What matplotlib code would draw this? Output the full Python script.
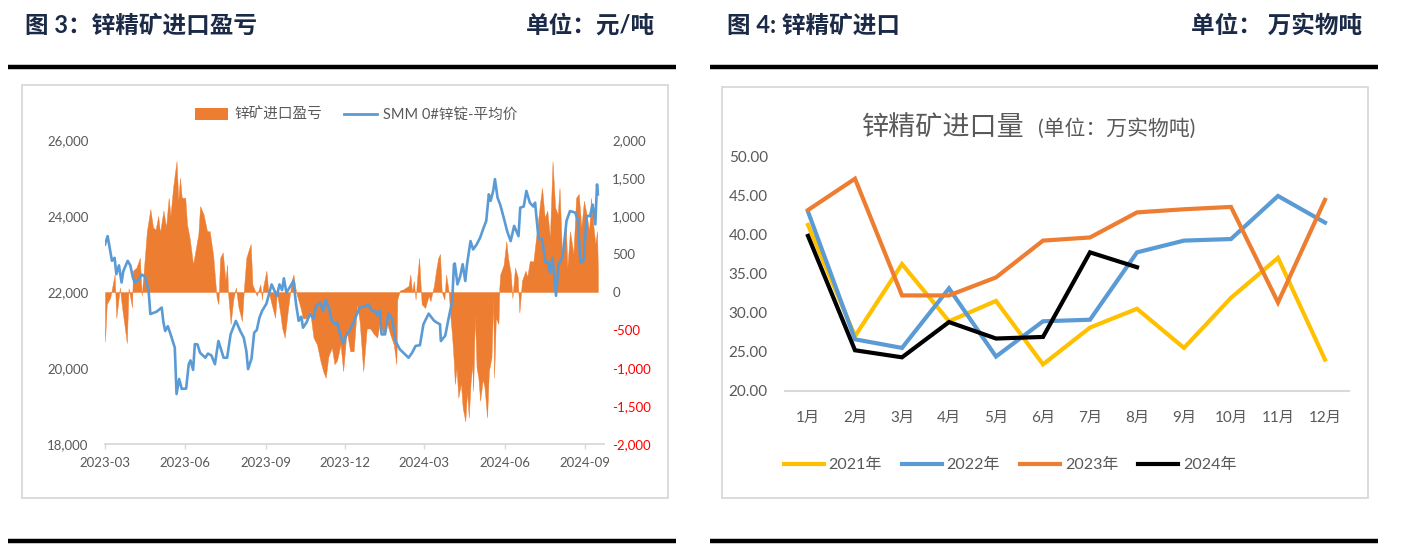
import matplotlib
matplotlib.use('Agg')
import matplotlib.pyplot as plt
import matplotlib.dates as mdates
from matplotlib.lines import Line2D
from matplotlib.patches import Rectangle, Patch
from matplotlib.ticker import FuncFormatter, FixedLocator
import pandas as pd

plt.rcParams['font.family'] = ['Lato', 'Noto Sans CJK SC', 'DejaVu Sans']

# ---------------- data: left chart (daily series) ----------------
price_dates = [
    '2023-03-01', '2023-03-04', '2023-03-09', '2023-03-12', '2023-03-14', '2023-03-17', '2023-03-20',
    '2023-03-22', '2023-03-27', '2023-03-30', '2023-04-02', '2023-04-04', '2023-04-08', '2023-04-12',
    '2023-04-16', '2023-04-20', '2023-04-22', '2023-04-29', '2023-05-05', '2023-05-07', '2023-05-09',
    '2023-05-12', '2023-05-15', '2023-05-20', '2023-05-22', '2023-05-25', '2023-05-28', '2023-06-02',
    '2023-06-05', '2023-06-07', '2023-06-10', '2023-06-12', '2023-06-15', '2023-06-18', '2023-06-24',
    '2023-06-27', '2023-07-01', '2023-07-05', '2023-07-09', '2023-07-15', '2023-07-19', '2023-07-23',
    '2023-07-29', '2023-08-03', '2023-08-07', '2023-08-10', '2023-08-12', '2023-08-16', '2023-08-19',
    '2023-08-22', '2023-08-25', '2023-08-28', '2023-09-02', '2023-09-08', '2023-09-14', '2023-09-17',
    '2023-09-20', '2023-09-22', '2023-09-25', '2023-10-03', '2023-10-06', '2023-10-09', '2023-10-12',
    '2023-10-14', '2023-10-18', '2023-10-22', '2023-10-26', '2023-10-29', '2023-11-03', '2023-11-06',
    '2023-11-09', '2023-11-13', '2023-11-16', '2023-11-20', '2023-11-22', '2023-11-26', '2023-11-29',
    '2023-12-03', '2023-12-07', '2023-12-13', '2023-12-18', '2023-12-24', '2023-12-28', '2024-01-01',
    '2024-01-05', '2024-01-07', '2024-01-10', '2024-01-12', '2024-01-16', '2024-01-20', '2024-01-24',
    '2024-01-28', '2024-02-02', '2024-02-08', '2024-02-12', '2024-02-16', '2024-02-20', '2024-02-25',
    '2024-02-29', '2024-03-06', '2024-03-12', '2024-03-15', '2024-03-19', '2024-03-20', '2024-03-25',
    '2024-03-29', '2024-04-02', '2024-04-04', '2024-04-05', '2024-04-08', '2024-04-11', '2024-04-14',
    '2024-04-17', '2024-04-19', '2024-04-23', '2024-04-26', '2024-04-30', '2024-05-04', '2024-05-08',
    '2024-05-11', '2024-05-14', '2024-05-16', '2024-05-19', '2024-05-21', '2024-05-24', '2024-05-27',
    '2024-05-31', '2024-06-04', '2024-06-08', '2024-06-12', '2024-06-17', '2024-06-19', '2024-06-23',
    '2024-06-26', '2024-06-30', '2024-07-04', '2024-07-06', '2024-07-10', '2024-07-14', '2024-07-18',
    '2024-07-21', '2024-07-23', '2024-07-26', '2024-07-30', '2024-08-02', '2024-08-06', '2024-08-08',
    '2024-08-11', '2024-08-15', '2024-08-21', '2024-08-24', '2024-08-27', '2024-08-31', '2024-09-03',
    '2024-09-07', '2024-09-10', '2024-09-13', '2024-09-15', '2024-09-16',
]
price_values = [
    23250, 23470, 22820, 22900, 22470, 22700, 22250,
    22550, 22820, 22700, 22380, 22250, 22300, 22460,
    22400, 22030, 21420, 21480, 21590, 21200, 20975,
    21100, 20900, 20535, 19315, 19710, 19450, 19460,
    20100, 20200, 19950, 20630, 20620, 20400, 20270,
    20380, 20330, 20100, 20710, 20270, 20270, 20890,
    21240, 20975, 20800, 20450, 19970, 20250, 20930,
    21000, 21320, 21500, 21690, 22200, 21895, 22200,
    22050, 22360, 21980, 22290, 21680, 21240, 21350,
    21060, 21200, 21420, 21300, 21630, 21720, 21500,
    21800, 21550, 21240, 21150, 21200, 20850, 20650,
    20880, 21000, 21320, 21590, 21620, 21680, 21500,
    21500, 21380, 21500, 20885, 20885, 21430, 21300,
    20710, 20490, 20360, 20270, 20400, 20580, 20600,
    21150, 21430, 21250, 21200, 21150, 20710, 20850,
    21320, 21760, 22730, 22750, 22200, 22400, 22730,
    22290, 22730, 23340, 23120, 23250, 23430, 23690,
    23870, 24570, 24400, 24660, 24970, 24480, 24300,
    23960, 23600, 23340, 23740, 23470, 24220, 24250,
    24660, 24350, 24250, 24350, 23390, 23400, 22770,
    22800, 22510, 22900, 21900, 22730, 22900, 23200,
    23870, 24130, 24090, 23900, 22770, 22850, 24000,
    24000, 24300, 23780, 24830, 24570,
]

margin_dates = [
    '2023-03-01', '2023-03-03', '2023-03-07', '2023-03-12', '2023-03-14', '2023-03-18', '2023-03-20',
    '2023-03-26', '2023-03-28', '2023-04-01', '2023-04-02', '2023-04-06', '2023-04-10', '2023-04-12',
    '2023-04-15', '2023-04-18', '2023-04-22', '2023-04-25', '2023-04-28', '2023-05-01', '2023-05-03',
    '2023-05-07', '2023-05-10', '2023-05-13', '2023-05-15', '2023-05-18', '2023-05-20', '2023-05-22',
    '2023-05-24', '2023-05-26', '2023-05-28', '2023-06-01', '2023-06-03', '2023-06-06', '2023-06-10',
    '2023-06-12', '2023-06-16', '2023-06-18', '2023-06-22', '2023-06-26', '2023-06-29', '2023-07-03',
    '2023-07-07', '2023-07-09', '2023-07-11', '2023-07-14', '2023-07-17', '2023-07-19', '2023-07-20',
    '2023-07-23', '2023-07-26', '2023-07-29', '2023-08-01', '2023-08-05', '2023-08-07', '2023-08-10',
    '2023-08-14', '2023-08-15', '2023-08-17', '2023-08-22', '2023-08-26', '2023-08-28', '2023-08-29',
    '2023-09-02', '2023-09-04', '2023-09-08', '2023-09-12', '2023-09-14', '2023-09-18', '2023-09-20',
    '2023-09-23', '2023-09-27', '2023-10-01', '2023-10-03', '2023-10-06', '2023-10-11', '2023-10-14',
    '2023-10-18', '2023-10-22', '2023-10-26', '2023-10-30', '2023-11-03', '2023-11-06', '2023-11-09',
    '2023-11-12', '2023-11-16', '2023-11-19', '2023-11-22', '2023-11-26', '2023-11-29', '2023-12-03',
    '2023-12-07', '2023-12-11', '2023-12-15', '2023-12-18', '2023-12-22', '2023-12-26', '2023-12-30',
    '2024-01-03', '2024-01-07', '2024-01-10', '2024-01-14', '2024-01-18', '2024-01-22', '2024-01-26',
    '2024-01-29', '2024-01-30', '2024-02-02', '2024-02-06', '2024-02-12', '2024-02-14', '2024-02-16',
    '2024-02-18', '2024-02-20', '2024-02-22', '2024-02-24', '2024-02-25', '2024-02-27', '2024-03-02',
    '2024-03-06', '2024-03-08', '2024-03-12', '2024-03-15', '2024-03-17', '2024-03-19', '2024-03-21',
    '2024-03-24', '2024-03-26', '2024-03-29', '2024-03-31', '2024-04-02', '2024-04-04', '2024-04-05',
    '2024-04-07', '2024-04-09', '2024-04-12', '2024-04-14', '2024-04-17', '2024-04-19', '2024-04-21',
    '2024-04-23', '2024-04-25', '2024-04-26', '2024-04-28', '2024-04-30', '2024-05-02', '2024-05-04',
    '2024-05-07', '2024-05-09', '2024-05-12', '2024-05-14', '2024-05-17', '2024-05-19', '2024-05-20',
    '2024-05-22', '2024-05-25', '2024-05-26', '2024-05-27', '2024-05-31', '2024-06-03', '2024-06-05',
    '2024-06-08', '2024-06-10', '2024-06-13', '2024-06-16', '2024-06-18', '2024-06-21', '2024-06-25',
    '2024-06-27', '2024-06-30', '2024-07-04', '2024-07-08', '2024-07-12', '2024-07-14', '2024-07-17',
    '2024-07-20', '2024-07-23', '2024-07-26', '2024-07-29', '2024-08-01', '2024-08-03', '2024-08-06',
    '2024-08-10', '2024-08-12', '2024-08-15', '2024-08-19', '2024-08-22', '2024-08-25', '2024-08-28',
    '2024-08-31', '2024-09-03', '2024-09-06', '2024-09-08', '2024-09-11', '2024-09-13', '2024-09-15',
    '2024-09-16',
]
margin_values = [
    -650, -160, -75, 230, -340, 60, -150,
    -670, 50, -200, 280, 320, 450, -50,
    360, 800, 1090, 850, 820, 1000, 780,
    1070, 850, 1240, 1000, 1370, 1550, 1720,
    1200, 1500, 1240, 1240, 890, 710, 360,
    500, 760, 1130, 1020, 800, 800, 480,
    -80, -160, 450, 520, 150, 360, 0,
    -420, -100, 60, -200, -380, 0, 450,
    600, 630, 100, -50, 100, -100, 50,
    280, 30, -160, -340, 0, -290, -470,
    -600, -200, 150, 230, 0, -200, -350,
    -340, -250, -600, -690, -910, -1040, -1130,
    -850, -730, -950, -900, -690, -1040, -500,
    -780, -780, -160, -400, -1040, -480, -480,
    -550, -600, -400, -560, -400, -560, -690,
    -950, -100, 20, 35, 80, 230, 0,
    145, -100, 200, 450, 250, -160, -210,
    -50, -120, 80, 320, 450, 500, 0,
    -100, 230, 0, -340, -600, -950, -1210,
    -1000, -1390, -1200, -1520, -1700, -1300, -1650,
    -1200, -950, -1300, -300, -1000, -1130, -1430,
    -1150, -1250, -1650, -1040, -860, -80, -1130,
    -340, -420, 50, 230, 360, 670, 450,
    250, -80, 320, 200, -270, 150, 280,
    200, 410, 400, 800, 1200, 1370, 980,
    1070, 710, 1720, 1110, 1020, 1370, 450,
    930, 320, 800, 500, 1240, 1290, 850,
    1200, 1020, 800, 1240, 850, 630, 800,
    280,
]

left_xtick_labels = ['2023-03', '2023-06', '2023-09', '2023-12', '2024-03', '2024-06', '2024-09']
left_legend_labels = ['锌矿进口盈亏', 'SMM 0#锌锭-平均价']

# ---------------- data: right chart ----------------
months = ['1月', '2月', '3月', '4月', '5月', '6月', '7月', '8月', '9月', '10月', '11月', '12月']
imp_2021 = [41.2, 27.0, 36.2, 28.9, 31.5, 23.4, 28.1, 30.5, 25.5, 31.9, 37.0, 24.0]
imp_2022 = [42.9, 26.6, 25.5, 33.1, 24.4, 28.9, 29.1, 37.7, 39.2, 39.4, 44.9, 41.5]
imp_2023 = [43.1, 47.1, 32.2, 32.2, 34.5, 39.2, 39.6, 42.8, 43.2, 43.5, 31.3, 44.4]
imp_2024 = [39.8, 25.2, 24.3, 28.8, 26.7, 26.9, 37.7, 35.8]
year_labels = ['2021年', '2022年', '2023年', '2024年']

# ---------------- figure ----------------
W, H = 1402, 554
fig = plt.figure(figsize=(W / 100, H / 100), dpi=100)

def fx(px):
    return px / W

def fy(py):
    return 1 - py / H

GRAY = '#595959'
LIGHT = '#D9D9D9'
NAVY = '#1B2A47'
ORANGE = '#ED7D31'
BLUE = '#5B9BD5'
YELLOW = '#FFC000'

# headers
HFS = 17
fig.text(fx(25), fy(25), '图 3：锌精矿进口盈亏', fontsize=HFS, fontweight='bold', color=NAVY, va='center', ha='left')
fig.text(fx(655), fy(25), '单位：元/吨', fontsize=HFS, fontweight='bold', color=NAVY, va='center', ha='right')
fig.text(fx(727), fy(25), '图 4: 锌精矿进口', fontsize=HFS, fontweight='bold', color=NAVY, va='center', ha='left')
fig.text(fx(1362), fy(25), '单位： 万实物吨', fontsize=HFS, fontweight='bold', color=NAVY, va='center', ha='right')

for (x0, x1) in [(8, 676), (710, 1378)]:
    for yy in (67, 541):
        fig.add_artist(Line2D([fx(x0), fx(x1)], [fy(yy), fy(yy)], color='black', lw=3.2,
                              transform=fig.transFigure, solid_capstyle='butt'))

# chart frames
fig.add_artist(Rectangle((fx(22), fy(498)), fx(668 - 22), (498 - 85) / H, transform=fig.transFigure,
                         facecolor='none', edgecolor=LIGHT, lw=1.3))
fig.add_artist(Rectangle((fx(722), fy(498)), fx(1368 - 722), (498 - 87) / H, transform=fig.transFigure,
                         facecolor='none', edgecolor=LIGHT, lw=1.3))

# ---------------- left chart ----------------
pos = [fx(105), fy(444), fx(604 - 105), (444 - 140) / H]
ax_r = fig.add_axes(pos)                    # right axis: import margin (area)
ax_l = fig.add_axes(pos, sharex=ax_r)       # left axis: zinc ingot price (line)

m_dates = pd.to_datetime(margin_dates)
p_dates = pd.to_datetime(price_dates)

ax_r.fill_between(m_dates, 0, margin_values, color=ORANGE, lw=0.3, edgecolor=ORANGE)
ax_r.set_ylim(-2000, 2000)
ax_r.yaxis.tick_right()
ax_r.set_yticks(range(-2000, 2001, 500))
ax_r.yaxis.set_major_formatter(FuncFormatter(lambda v, p: f'{int(v):,}'))
ax_r.tick_params(axis='y', length=0, pad=6, labelsize=9.5)
for lbl, v in zip(ax_r.get_yticklabels(), range(-2000, 2001, 500)):
    lbl.set_color('#FF0000' if v < 0 else GRAY)

ax_l.plot(p_dates, price_values, color=BLUE, lw=1.9, solid_joinstyle='round')
ax_l.set_ylim(18000, 26000)
ax_l.set_yticks(range(18000, 26001, 2000))
ax_l.yaxis.set_major_formatter(FuncFormatter(lambda v, p: f'{int(v):,}'))
ax_l.tick_params(axis='y', length=0, pad=12, labelsize=9.5, labelcolor=GRAY)
ax_l.patch.set_visible(False)
ax_l.set_zorder(ax_r.get_zorder() + 1)

ax_r.set_xlim(pd.Timestamp('2023-03-01'), pd.Timestamp('2024-09-23'))
tick_dates = pd.to_datetime([s + '-01' for s in left_xtick_labels])
ax_r.xaxis.set_major_locator(FixedLocator(mdates.date2num(tick_dates)))
ax_r.set_xticklabels(left_xtick_labels)
ax_r.tick_params(axis='x', length=3.5, width=1, color=LIGHT, pad=6, labelsize=9.5, labelcolor=GRAY)
ax_l.tick_params(axis='x', bottom=False, labelbottom=False)

for a in (ax_r, ax_l):
    for s in ('top', 'left', 'right'):
        a.spines[s].set_visible(False)
ax_l.spines['bottom'].set_visible(False)
ax_r.spines['bottom'].set_color(LIGHT)
ax_r.spines['bottom'].set_linewidth(1.3)

handles = [Patch(facecolor=ORANGE, edgecolor='none'), Line2D([], [], color=BLUE, lw=2)]
fig.legend(handles, left_legend_labels, loc='center', bbox_to_anchor=(fx(356), fy(115)), ncol=2,
           frameon=False, fontsize=10.5, handlelength=2.3, handleheight=0.85, handletextpad=0.4,
           columnspacing=1.5, labelcolor=GRAY)

# ---------------- right chart ----------------
ax2 = fig.add_axes([fx(784.5), fy(391), fx(1348.5 - 784.5), (391 - 156) / H])
xs = list(range(1, 13))
for vals, col in [(imp_2021, YELLOW), (imp_2022, BLUE), (imp_2023, ORANGE), (imp_2024, 'black')]:
    ax2.plot(xs[:len(vals)], vals, color=col, lw=3, solid_joinstyle='miter')
ax2.set_xlim(0.5, 12.5)
ax2.set_ylim(20, 50)
ax2.set_yticks(range(20, 51, 5))
ax2.yaxis.set_major_formatter(FuncFormatter(lambda v, p: f'{v:.2f}'))
ax2.set_xticks(xs)
ax2.set_xticklabels(months)
ax2.tick_params(axis='y', length=0, pad=12, labelsize=11, labelcolor=GRAY)
ax2.tick_params(axis='x', length=0, pad=14, labelsize=11, labelcolor=GRAY)
for s in ('top', 'left', 'right'):
    ax2.spines[s].set_visible(False)
ax2.spines['bottom'].set_color(LIGHT)
ax2.spines['bottom'].set_linewidth(1.5)
ax2.patch.set_visible(False)

fig.text(fx(862), fy(135), '锌精矿进口量', fontsize=19.5, color=GRAY, va='baseline', ha='left')
fig.text(fx(1038), fy(135), '(单位：万实物吨)', fontsize=15, color=GRAY, va='baseline', ha='left')

h2 = [Line2D([], [], color=c, lw=3) for c in (YELLOW, BLUE, ORANGE, 'black')]
fig.legend(h2, year_labels, loc='center', bbox_to_anchor=(fx(1010), fy(465)), ncol=4, frameon=False,
           fontsize=11.5, handlelength=2.5, handletextpad=0.3, columnspacing=1.25, labelcolor=GRAY)

fig.savefig('out.png', dpi=100)
